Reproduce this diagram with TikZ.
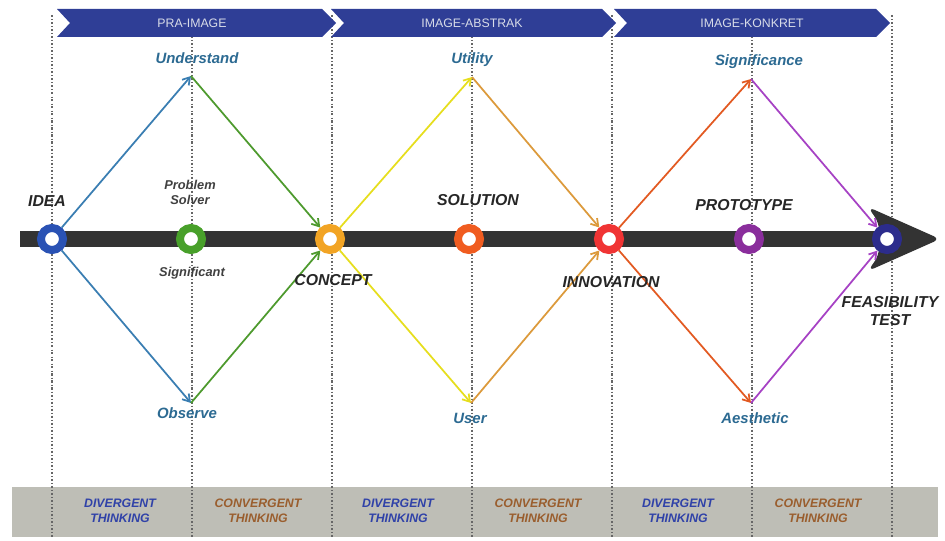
\documentclass[tikz,border=0pt]{standalone}
\usepackage{fontspec}
\setmainfont{Liberation Sans}
\usetikzlibrary{arrows.meta}
\definecolor{bannerblue}{HTML}{2F3E96}
\definecolor{bartext}{HTML}{D8DCE8}
\definecolor{barcol}{HTML}{333333}
\definecolor{bandgray}{HTML}{BEBEB6}
\definecolor{tealblue}{HTML}{2C6A92}
\definecolor{divblue}{HTML}{3042A8}
\definecolor{conbrown}{HTML}{9A5E2E}
\definecolor{ridea}{HTML}{2A52B4}
\definecolor{rgreen}{HTML}{48A02A}
\definecolor{rorange}{HTML}{F2A424}
\definecolor{rsolution}{HTML}{F05C20}
\definecolor{rinnov}{HTML}{F03434}
\definecolor{rproto}{HTML}{8A2E9C}
\definecolor{rfeas}{HTML}{2C2C8C}
\definecolor{lblue}{HTML}{3A7EB2}
\definecolor{lgreen}{HTML}{4E9A2E}
\definecolor{lyellow}{HTML}{E6DE1E}
\definecolor{lgold}{HTML}{DC9A3C}
\definecolor{lred}{HTML}{E25A22}
\definecolor{lpurple}{HTML}{A642C4}
\tikzstyle{ring}=[circle, line width=0.16cm, fill=white, minimum size=0.44cm, inner sep=0pt]
\tikzstyle{vtext}=[font=\bfseries\itshape\fontsize{8.5}{10}\selectfont, text=tealblue]
\tikzstyle{stage}=[font=\bfseries\itshape\fontsize{9}{10}\selectfont, text=black!85, align=center]
\tikzstyle{small}=[font=\bfseries\itshape\fontsize{7.3}{8.5}\selectfont, text=black!75, align=center]
\tikzstyle{think}=[font=\bfseries\itshape\fontsize{7}{8.5}\selectfont, align=center]
\tikzstyle{phase}=[font=\fontsize{7}{8}\selectfont, text=bartext]
\tikzstyle{grid}=[gray!80!black, semithick, dash pattern=on 1.2pt off 1.2pt on 0.4pt off 1.2pt]
\tikzstyle{flow}=[line width=1pt, -{Straight Barb[length=4pt,width=5pt]}]

\begin{document}
\begin{tikzpicture}[x=0.02cm, y=-0.02cm]
\useasboundingbox (0,0) rectangle (945,540);

\fill[bandgray] (12,487) rectangle (938,537);
\foreach \x in {52,192,332,472,612,752,892}
  \draw[grid] (\x,15) -- (\x,538);

\fill[bannerblue] (57,9) -- (322,9) -- (336,23) -- (322,37) -- (57,37) -- (70,23) -- cycle;
\fill[bannerblue] (331,9) -- (602,9) -- (616,23) -- (602,37) -- (331,37) -- (344,23) -- cycle;
\fill[bannerblue] (614,9) -- (876,9) -- (890,23) -- (876,37) -- (614,37) -- (627,23) -- cycle;
\node[phase] (p1) at (192,23) {PRA-IMAGE};
\node[phase] (p2) at (472,23) {IMAGE-ABSTRAK};
\node[phase] (p3) at (752,23) {IMAGE-KONKRET};

\draw[line width=0.32cm, barcol] (20,239) -- (900,239);
\fill[barcol, rounded corners=4pt] (868,207) -- (940,239) -- (868,271) -- (879,255) -- (879,223) -- cycle;

\node[ring, draw=ridea] (n1) at (52,239) {};
\node[ring, draw=rgreen] (n2) at (191,239) {};
\node[ring, draw=rorange] (n3) at (330,239) {};
\node[ring, draw=rsolution] (n4) at (469,239) {};
\node[ring, draw=rinnov] (n5) at (609,239) {};
\node[ring, draw=rproto] (n6) at (749,239) {};
\node[ring, draw=rfeas] (n7) at (887,239) {};

\coordinate (u1) at (191,76);
\coordinate (o1) at (191,403);
\coordinate (u2) at (472,77);
\coordinate (o2) at (471,403);
\coordinate (u3) at (751,79);
\coordinate (o3) at (751,403);

\draw[flow, lblue] (n1) -- (u1);
\draw[flow, lblue] (n1) -- (o1);
\draw[flow, lgreen] (u1) -- (n3);
\draw[flow, lgreen] (o1) -- (n3);
\draw[flow, lyellow] (n3) -- (u2);
\draw[flow, lyellow] (n3) -- (o2);
\draw[flow, lgold] (u2) -- (n5);
\draw[flow, lgold] (o2) -- (n5);
\draw[flow, lred] (n5) -- (u3);
\draw[flow, lred] (n5) -- (o3);
\draw[flow, lpurple] (u3) -- (n7);
\draw[flow, lpurple] (o3) -- (n7);

\node[vtext] (v1) at (197,58) {Understand};
\node[vtext] (v2) at (187,413) {Observe};
\node[vtext] (v3) at (472,60) {Utility};
\node[vtext] (v4) at (470,418) {User};
\node[vtext] (v5) at (759,62) {Significance};
\node[vtext] (v6) at (755,418) {Aesthetic};

\node[stage] (t1) at (47,201) {IDEA};
\node[small] (t2) at (190,192) {Problem\\Solver};
\node[small] (t3) at (192,273) {Significant};
\node[stage] (t4) at (333,280) {CONCEPT};
\node[stage] (t5) at (478,200) {SOLUTION};
\node[stage] (t6) at (611,282) {INNOVATION};
\node[stage] (t7) at (744,205) {PROTOTYPE};
\node[stage] (t8) at (890,311) {FEASIBILITY\\TEST};

\foreach \x/\c/\t in {120/divblue/DIVERGENT, 258/conbrown/CONVERGENT, 398/divblue/DIVERGENT,
  538/conbrown/CONVERGENT, 678/divblue/DIVERGENT, 818/conbrown/CONVERGENT}
  \node[think, text=\c] (th\x) at (\x,511) {\t\\THINKING};

\end{tikzpicture}
\end{document}
